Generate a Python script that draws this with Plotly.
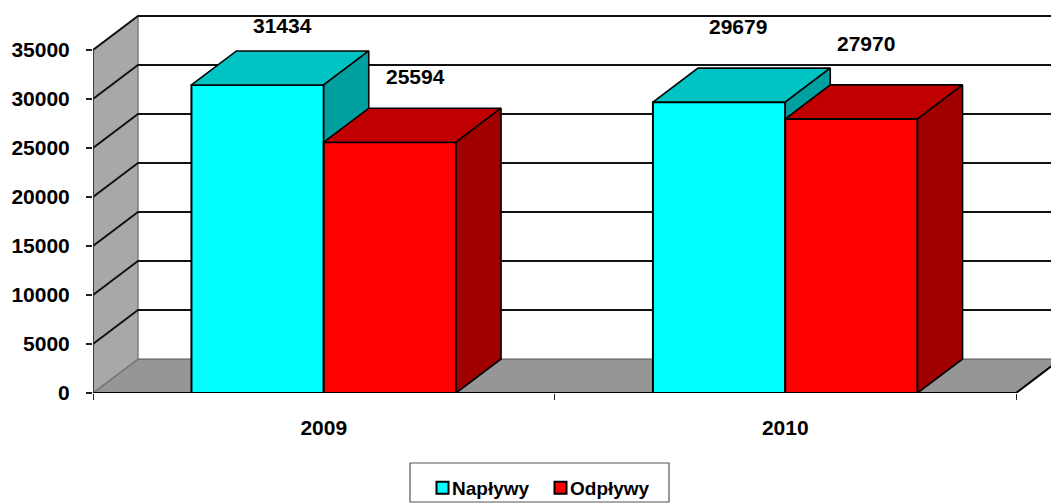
import plotly.graph_objects as go

categories = ["2009", "2010"]
napływy = [31434, 29679]
odpływy = [25594, 27970]
y_ticks = [0, 5000, 10000, 15000, 20000, 25000, 30000, 35000]

# pixel scale helpers for the fake-3D projection
PX_X = 461.5          # px per category
PX_Y = 343 / 35000    # px per value
DX = 45 / PX_X
DY = 34 / PX_Y
XMAX = 958 / PX_X
YMAX = 378 / PX_Y
BW = 132.3 / PX_X
N = len(categories)
centers = [i + 0.5 for i in range(N)]
FONT = "Liberation Sans"
BASE = 393  # pixel row of the plot-area bottom


def poly(xs, ys, fill, z, line="black", lw=1.6):
    return go.Scatter(x=xs, y=ys, mode="lines", fill="toself", fillcolor=fill,
                      line=dict(color=line, width=lw), showlegend=False,
                      hoverinfo="skip", cliponaxis=False, zorder=z)


def path(xs, ys, color, lw, z):
    return go.Scatter(x=xs, y=ys, mode="lines", line=dict(color=color, width=lw),
                      showlegend=False, hoverinfo="skip", cliponaxis=False,
                      connectgaps=False, zorder=z)


fig = go.Figure()

# floor and side wall
fig.add_trace(poly([0, DX, N + DX, N, 0], [0, DY, DY, 0, 0], "#969696", 0, "#555555", 1.2))
fig.add_trace(poly([0, DX, DX, 0, 0], [0, DY, y_ticks[-1] + DY, y_ticks[-1], 0], "#a8a8a8", 0, "#777777", 1.4))

# gridlines on side and back walls
gx, gy = [], []
for v in y_ticks[1:]:
    gx += [0, DX, N + DX, None]
    gy += [v, v + DY, v + DY, None]
fig.add_trace(path(gx, gy, "#111111", 1.8, 1))
fig.add_trace(path([0, 0], [0, y_ticks[-1]], "#333333", 1.8, 1))
fig.add_trace(path([N, N + DX], [0, DY], "#000000", 2, 1))

series = [
    ("Napływy", napływy, -BW / 2, "#00ffff", "#00c4c4", "#00a0a0", 2),
    ("Odpływy", odpływy, BW / 2, "#ff0000", "#c00000", "#a00000", 5),
]
for name, vals, off, front, top, side, z in series:
    fig.add_trace(go.Bar(x=centers, y=vals, name=name, width=BW, offset=off - BW / 2,
                         marker=dict(color=front, line=dict(color="black", width=2)),
                         cliponaxis=False, hoverinfo="x+y", zorder=z))
    for c, v in zip(centers, vals):
        l, r = c + off - BW / 2, c + off + BW / 2
        fig.add_trace(poly([l, l + DX, r + DX, r, l], [v, v + DY, v + DY, v, v], top, z + 1))
        fig.add_trace(poly([r, r + DX, r + DX, r, r], [0, DY, v + DY, v, 0], side, z + 1))

# baseline over the bars
fig.add_trace(path([0, N], [0, 0], "#000000", 2.2, 9))

# data labels, hand-placed in the original
offsets = {0: [(25, 59), (19, 76)], 1: [(26, 66), (15, 75)]}
for si, (name, vals, off, *_rest) in enumerate(series):
    for i, v in enumerate(vals):
        fig.add_annotation(x=centers[i] + off, y=v, text=str(v), showarrow=False,
                           xshift=offsets[si][i][0], yshift=offsets[si][i][1],
                           font=dict(family=FONT, size=21, color="black", weight=700))

# legend frame
fig.add_shape(type="rect", xref="paper", yref="paper",
              x0=(410 - 93) / 958, x1=(669 - 93) / 958,
              y0=(BASE - 502) / 378, y1=(BASE - 463) / 378,
              line=dict(color="#555555", width=1.2), fillcolor="white")

fig.update_layout(
    width=1051, height=503, autosize=False,
    margin=dict(l=93, r=0, t=15, b=110, pad=0, autoexpand=False),
    paper_bgcolor="white", plot_bgcolor="white",
    barmode="overlay",
    showlegend=True,
    legend=dict(orientation="h", x=(412 - 93) / 958, xanchor="left",
                y=(BASE - 469) / 378, yanchor="top", bgcolor="rgba(0,0,0,0)",
                borderwidth=0, traceorder="normal", entrywidth=82, entrywidthmode="pixels",
                font=dict(family=FONT, size=19, color="black", weight=700)),
    xaxis=dict(range=[0, XMAX], tickmode="array", tickvals=centers, ticktext=categories,
               ticks="", showgrid=False, zeroline=False, showline=False,
               ticklabelstandoff=20,
               tickfont=dict(family=FONT, size=21, color="black", weight=700),
               minor=dict(tickmode="array", tickvals=list(range(N + 1)), ticks="outside",
                          ticklen=6, tickwidth=1.3, tickcolor="#222222", showgrid=False)),
    yaxis=dict(range=[0, YMAX], tickmode="array", tickvals=y_ticks,
               ticktext=[str(v) for v in y_ticks],
               ticks="outside", ticklen=6, tickwidth=1.5, tickcolor="#222222",
               showgrid=False, zeroline=False, showline=False, ticklabelstandoff=12,
               tickfont=dict(family=FONT, size=21, color="black", weight=700)),
)

post = """
document.body.style.margin = '0';
document.querySelectorAll('.legend .legendpoints').forEach(function (g) {
  g.setAttribute('transform', 'translate(10.5,0)');
});
var entries = document.querySelectorAll('.legend .traces');
if (entries.length > 1) {
  var m = entries[1].transform.baseVal.getItem(0).matrix;
  entries[1].setAttribute('transform', 'translate(118,' + m.f + ')');
}
"""
fig.write_html("out.html", config=dict(displayModeBar=False), post_script=post)
